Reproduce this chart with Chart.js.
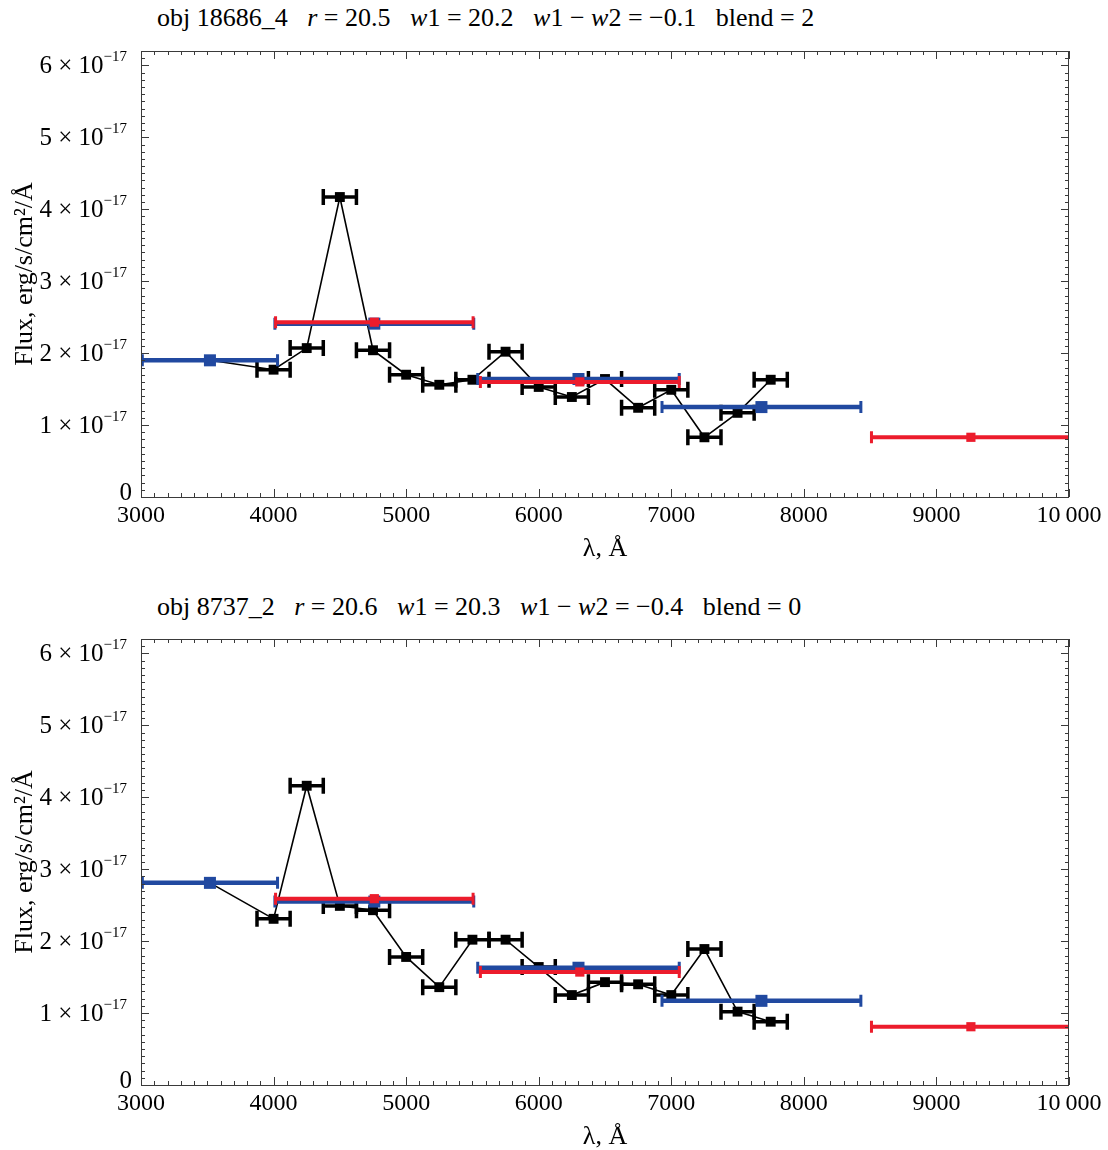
<!DOCTYPE html>
<html>
<head>
<meta charset="utf-8">
<script src="https://cdn.jsdelivr.net/npm/chart.js@4.4.1/dist/chart.umd.min.js"></script>
<style>
  body { margin: 0; background: #fff; }
  #wrap { position: relative; width: 1108px; height: 1150px; overflow: hidden; }
  canvas { position: absolute; left: 0; }
  .ttl {
    position: absolute; left: 157px; font: 26px "Liberation Serif", serif;
    line-height: 30px; white-space: pre; color: #000;
  }
  .ttl i { font-style: italic; }
</style>
</head>
<body>
<div id="wrap">
  <div class="ttl" style="top:3px">obj 18686_4   <i>r</i> = 20.5   <i>w</i>1 = 20.2   <i>w</i>1 − <i>w</i>2 = −0.1   blend = 2</div>
  <canvas id="c1" width="1108" height="575" style="top:0"></canvas>
  <div class="ttl" style="top:592px">obj 8737_2   <i>r</i> = 20.6   <i>w</i>1 = 20.3   <i>w</i>1 − <i>w</i>2 = −0.4   blend = 0</div>
  <canvas id="c2" width="1108" height="562" style="top:588px"></canvas>
</div>
<script>
// ============================================================
// DATA  (flux in units of 1e-17 erg/s/cm2/A, wavelength in A)
// ============================================================
const X_MIN = 3000, X_MAX = 10000;
const Y_MIN = 0,    Y_MAX = 6.2;
const FLUX_EXP = -17;

// narrow-band points (black)
const blackX    = [4000, 4250, 4500, 4750, 5000, 5250, 5500, 5750, 6000, 6250, 6500, 6750, 7000, 7250, 7500, 7750];
const blackXErr = [125, 125, 125, 125, 125, 125, 125, 125, 125, 125, 125, 125, 125, 125, 125, 125];
const black1Y   = [1.77, 2.07, 4.17, 2.04, 1.70, 1.56, 1.63, 2.02, 1.53, 1.39, 1.64, 1.24, 1.49, 0.83, 1.17, 1.63];
const black2Y   = [2.31, 4.16, 2.49, 2.43, 1.78, 1.36, 2.02, 2.02, 1.64, 1.25, 1.43, 1.40, 1.25, 1.89, 1.02, 0.88];

// broad-band points (blue)
const blueX    = [3520, 4760, 6300, 7680];
const blueXErr = [510, 750, 760, 750];
const blue1Y   = [1.90, 2.41, 1.64, 1.25];
const blue2Y   = [2.81, 2.55, 1.63, 1.17];

// broad-band points (red)
const redX    = [4760, 6310, 9260];
const redXErr = [745, 750, 750];
const red1Y   = [2.43, 1.60, 0.83];
const red2Y   = [2.59, 1.57, 0.81];

const xTickLabels = { 10000: '10\u2009000' };

// ============================================================
// PLUGINS
// ============================================================
const FONT = '"Liberation Serif", "DejaVu Serif", serif';

// horizontal error bars with caps, drawn right after their own dataset
const xErrorBars = {
  id: 'xErrorBars',
  afterDatasetDraw(chart, args) {
    const ds = chart.data.datasets[args.index];
    if (!ds.xErr) return;
    const { ctx, chartArea: a, scales: { x, y } } = chart;
    ctx.save();
    ctx.beginPath();
    ctx.rect(a.left, a.top, a.right - a.left, a.bottom - a.top);
    ctx.clip();
    ctx.strokeStyle = ds.borderColor;
    ds.data.forEach((p, i) => {
      const e  = ds.xErr[i];
      const x0 = x.getPixelForValue(p.x - e);
      const x1 = x.getPixelForValue(p.x + e);
      const py = y.getPixelForValue(p.y);
      ctx.lineWidth = ds.barWidth;
      ctx.beginPath();
      ctx.moveTo(x0, py); ctx.lineTo(x1, py);
      ctx.stroke();
      ctx.lineWidth = ds.capWidth;
      ctx.beginPath();
      ctx.moveTo(x0, py - ds.capH / 2); ctx.lineTo(x0, py + ds.capH / 2);
      ctx.moveTo(x1, py - ds.capH / 2); ctx.lineTo(x1, py + ds.capH / 2);
      ctx.stroke();
    });
    ctx.restore();
  }
};

// frame with inward ticks on all sides, y labels with exponents, axis titles
const frameTicks = {
  id: 'frameTicks',
  afterDraw(chart) {
    const { ctx, chartArea: a, scales: { x, y } } = chart;
    ctx.save();
    ctx.strokeStyle = '#3a3a3a';
    ctx.lineWidth = 1;
    ctx.strokeRect(a.left + 0.5, a.top + 0.5, a.right - a.left - 1, a.bottom - a.top);

    ctx.beginPath();
    for (let k = 0; k <= (X_MAX - X_MIN) / 100; k++) {
      const px = Math.round(x.getPixelForValue(X_MIN + k * 100)) + 0.5;
      const len = k % 10 === 0 ? 8 : 4;
      ctx.moveTo(px, a.bottom); ctx.lineTo(px, a.bottom - len);
      ctx.moveTo(px, a.top);    ctx.lineTo(px, a.top + len);
    }
    for (let k = 0; k <= Math.floor(Y_MAX * 10); k++) {
      const py = Math.round(y.getPixelForValue(k / 10)) + 0.5;
      const len = k % 10 === 0 ? 8 : 4;
      ctx.moveTo(a.left, py);  ctx.lineTo(a.left + len, py);
      ctx.moveTo(a.right, py); ctx.lineTo(a.right - len, py);
    }
    ctx.stroke();

    // y tick labels: "n × 10^-17"
    ctx.fillStyle = '#000';
    ctx.textBaseline = 'middle';
    const right = a.left - 14;
    y.ticks.filter(t => Number.isInteger(t.value)).forEach(t => {
      const py = y.getPixelForValue(t.value);
      ctx.font = '25px ' + FONT;
      if (t.value === 0) {
        ctx.textAlign = 'right';
        ctx.fillText('0', right + 5, py - 4);
        return;
      }
      const main = t.value + ' × 10';
      const sup  = '−' + Math.abs(FLUX_EXP);
      const wMain = ctx.measureText(main).width;
      ctx.font = '15px ' + FONT;
      const wSup = ctx.measureText(sup).width;
      ctx.textAlign = 'left';
      ctx.font = '25px ' + FONT;
      ctx.fillText(main, right - wMain - wSup, py + 1);
      ctx.font = '15px ' + FONT;
      ctx.fillText(sup, right - wSup, py - 8);
    });

    // axis titles
    ctx.font = '26px ' + FONT;
    ctx.textAlign = 'center';
    ctx.fillText('λ, Å', (a.left + a.right) / 2, a.bottom + 52);
    ctx.translate(25, (a.top + a.bottom) / 2);
    ctx.rotate(-Math.PI / 2);
    ctx.fillText('Flux, erg/s/cm²/Å', 0, 0);
    ctx.restore();
  }
};

// ============================================================
// CHARTS
// ============================================================
const pts = (xs, ys) => xs.map((v, i) => ({ x: v, y: ys[i] }));

function makeChart(id, blackY, blueY, redY) {
  const cv = document.getElementById(id);
  const axisH = cv.height - 497;
  const line = [{ x: blueX[0], y: blueY[0] }, ...pts(blackX, blackY)];

  return new Chart(cv, {
    type: 'scatter',
    data: {
      datasets: [
        {
          label: 'red', data: pts(redX, redY), xErr: redXErr,
          borderColor: '#ec1c2c', backgroundColor: '#ec1c2c',
          pointStyle: 'rect', pointRadius: 6.5, pointBorderWidth: 0,
          barWidth: 4, capWidth: 3, capH: 12, order: 0,
        },
        {
          label: 'blue', data: pts(blueX, blueY), xErr: blueXErr,
          borderColor: '#2149a0', backgroundColor: '#2149a0',
          pointStyle: 'rect', pointRadius: 8.5, pointBorderWidth: 0,
          barWidth: 4.5, capWidth: 3, capH: 12, order: 1,
        },
        {
          label: 'black', data: pts(blackX, blackY), xErr: blackXErr,
          borderColor: '#000', backgroundColor: '#000',
          pointStyle: 'rect', pointRadius: 7, pointBorderWidth: 0,
          barWidth: 3.5, capWidth: 3.5, capH: 16, order: 2,
        },
        {
          label: 'line', data: line, showLine: true,
          borderColor: '#000', borderWidth: 1.6, pointRadius: 0, order: 3,
        },
      ]
    },
    options: {
      responsive: false,
      animation: false,
      events: [],
      layout: { padding: { top: 51, right: 39, left: 0, bottom: 0 } },
      plugins: { legend: { display: false }, tooltip: { enabled: false } },
      scales: {
        x: {
          type: 'linear', min: X_MIN, max: X_MAX,
          grid: { display: false, drawTicks: false },
          border: { display: false },
          ticks: {
            stepSize: 1000, autoSkip: false, maxRotation: 0, padding: 4,
            color: '#000', font: { family: FONT, size: 24 },
            callback: v => xTickLabels[v] || String(v),
          },
          afterFit: s => { s.height = axisH; },
        },
        y: {
          type: 'linear', min: Y_MIN, max: Y_MAX,
          grid: { display: false, drawTicks: false },
          border: { display: false },
          ticks: { stepSize: 1, display: false },
          afterFit: s => { s.width = 141; },
        }
      }
    },
    plugins: [xErrorBars, frameTicks]
  });
}

makeChart('c1', black1Y, blue1Y, red1Y);
makeChart('c2', black2Y, blue2Y, red2Y);
</script>
</body>
</html>
